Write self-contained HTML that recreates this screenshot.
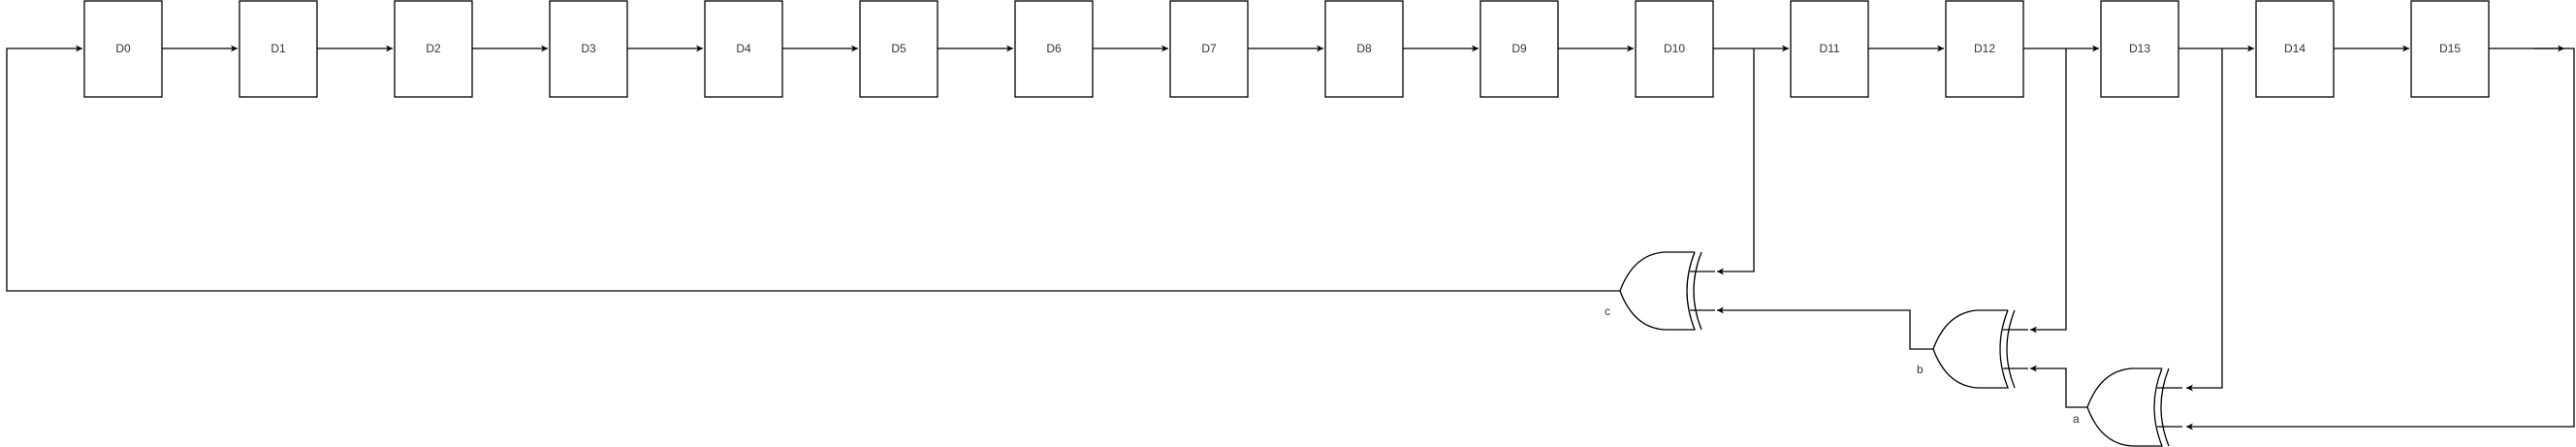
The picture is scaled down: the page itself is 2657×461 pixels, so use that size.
<!DOCTYPE html>
<html><head><meta charset="utf-8"><style>
html,body{margin:0;padding:0;background:#fff;width:2657px;height:461px;overflow:hidden}
svg{display:block}
text{font-family:"Liberation Sans",sans-serif;font-size:12px;fill:#333}
</style></head><body>
<svg id="s" width="2657" height="461" viewBox="0 0 2657 461">
<defs><marker id="ar" markerWidth="8" markerHeight="8" refX="7" refY="4" orient="auto" markerUnits="userSpaceOnUse"><path d="M0,0.5 L7,4 L0,7.5 L2,4 Z" fill="#000"/></marker></defs>
<g id="regs"></g>
<g fill="none" stroke="#000" stroke-width="1.3">
<path d="M2613,50 H2655 V440 H2255" marker-end="url(#ar)"/>
<path d="M2292,50 V400 H2255" marker-end="url(#ar)"/>
<path d="M2131,50 V340 H2094" marker-end="url(#ar)"/>
<path d="M1809,50 V280 H1771" marker-end="url(#ar)"/>
<path d="M2153,420 H2131 V380 H2094" marker-end="url(#ar)"/>
<path d="M1994,360 H1970 V320 H1771" marker-end="url(#ar)"/>
<path d="M1671,300 H7 V50 H85" marker-end="url(#ar)"/>
</g>
<g id="gates" fill="none" stroke="#000" stroke-width="1.3"></g>
<text x="1655" y="325">c</text>
<text x="1977" y="385">b</text>
<text x="2138" y="436">a</text>
</svg>
<script>
const NS='http://www.w3.org/2000/svg';
const regs=document.getElementById('regs');
for(let i=0;i<16;i++){
  const x=87+160*i;
  const r=document.createElementNS(NS,'rect');
  r.setAttribute('x',x);r.setAttribute('y',1);r.setAttribute('width',80);r.setAttribute('height',99);
  r.setAttribute('fill','#fff');r.setAttribute('stroke','#000');r.setAttribute('stroke-width','1.3');
  
  
  regs.appendChild(r);
  const t=document.createElementNS(NS,'text');
  t.setAttribute('x',x+40);t.setAttribute('y',54);t.setAttribute('text-anchor','middle');
  t.textContent='D'+i;
  
  
  regs.appendChild(t);
  const l=document.createElementNS(NS,'path');
  l.setAttribute('d','M'+(x+80)+',50 H'+(x+158));
  l.setAttribute('stroke','#000');l.setAttribute('stroke-width','1.3');l.setAttribute('marker-end','url(#ar)');
  
  
  regs.appendChild(l);
}
const gates=document.getElementById('gates');
[['c',1671,300],['b',1994,360],['a',2153,420]].forEach(([n,t,cy])=>{
  const g=document.createElementNS(NS,'g');
  
  
  const p=document.createElementNS(NS,'path');
  p.setAttribute('d',`M${t+77},${cy-40} L${t+46},${cy-40} Q${t+14},${cy-38} ${t},${cy} Q${t+14},${cy+38} ${t+46},${cy+40} L${t+77},${cy+40} Q${t+61},${cy} ${t+77},${cy-40}`);
  p.setAttribute('fill','#fff');
  g.appendChild(p);
  const q=document.createElementNS(NS,'path');
  q.setAttribute('d',`M${t+84},${cy-40} Q${t+68},${cy} ${t+84},${cy+40}`);
  g.appendChild(q);
  [cy-20,cy+20].forEach(y=>{
    const l=document.createElementNS(NS,'path');
    l.setAttribute('d',`M${t+72},${y} H${t+98}`);
    g.appendChild(l);
  });
  gates.appendChild(g);
});
</script>
</body></html>
